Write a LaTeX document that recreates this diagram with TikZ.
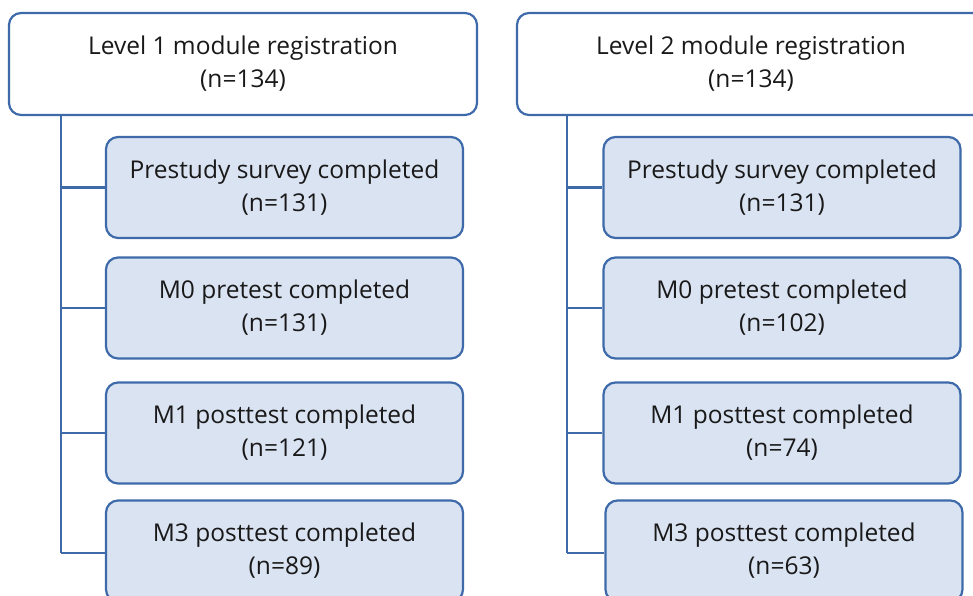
\documentclass[tikz,border=0pt]{standalone}
\usepackage{fontspec}
\setmainfont{Open Sans}
\definecolor{edgeblue}{RGB}{62,106,170}
\definecolor{boxfill}{RGB}{218,227,242}
\definecolor{txt}{RGB}{25,25,25}
\begin{document}
\begin{tikzpicture}[x=1pt,y=-1pt,
  topbox/.style={draw=edgeblue, line width=2.2pt, fill=white, rounded corners=12pt,
    minimum width=468pt, minimum height=102pt, align=center, text=txt, font=\fontsize{24.5}{33}\selectfont, inner sep=0pt},
  subbox/.style={draw=edgeblue, line width=2.2pt, fill=boxfill, rounded corners=12pt,
    minimum width=357pt, minimum height=101pt, align=center, text=txt, font=\fontsize{24.5}{33}\selectfont, inner sep=0pt},
  link/.style={draw=edgeblue, line width=2.2pt}]
\useasboundingbox (0,0) rectangle (973,596);
\clip (0,0) rectangle (973,596);
% left column
\node[topbox] (t1) at (243,64) {Level 1 module registration\\(n=134)};
\node[subbox] (a1) at (284.5,187.5) {Prestudy survey completed\\(n=131)};
\node[subbox] (a2) at (284.5,308) {M0 pretest completed\\(n=131)};
\node[subbox] (a3) at (284.5,433) {M1 posttest completed\\(n=121)};
\node[subbox] (a4) at (284.5,551) {M3 posttest completed\\(n=89)};
\coordinate (l1) at (61,115);
\coordinate (l2) at (61,553);
\draw[link] (l1) -- (l2);
\foreach \n in {a1,a2,a3}{\draw[link] (l1 |- \n.west) -- (\n.west);}
\draw[link] (l2) -- (a4.west |- l2);
% right column
\node[topbox] (t2) at (751,64) {Level 2 module registration\\(n=134)};
\node[subbox] (b1) at (782,187.5) {Prestudy survey completed\\(n=131)};
\node[subbox] (b2) at (782,308) {M0 pretest completed\\(n=102)};
\node[subbox] (b3) at (782,433) {M1 posttest completed\\(n=74)};
\node[subbox] (b4) at (784,551) {M3 posttest completed\\(n=63)};
\coordinate (r1) at (567,115);
\coordinate (r2) at (567,553);
\draw[link] (r1) -- (r2);
\foreach \n in {b1,b2,b3}{\draw[link] (r1 |- \n.west) -- (\n.west);}
\draw[link] (r2) -- (b4.west |- r2);
\end{tikzpicture}
\end{document}
